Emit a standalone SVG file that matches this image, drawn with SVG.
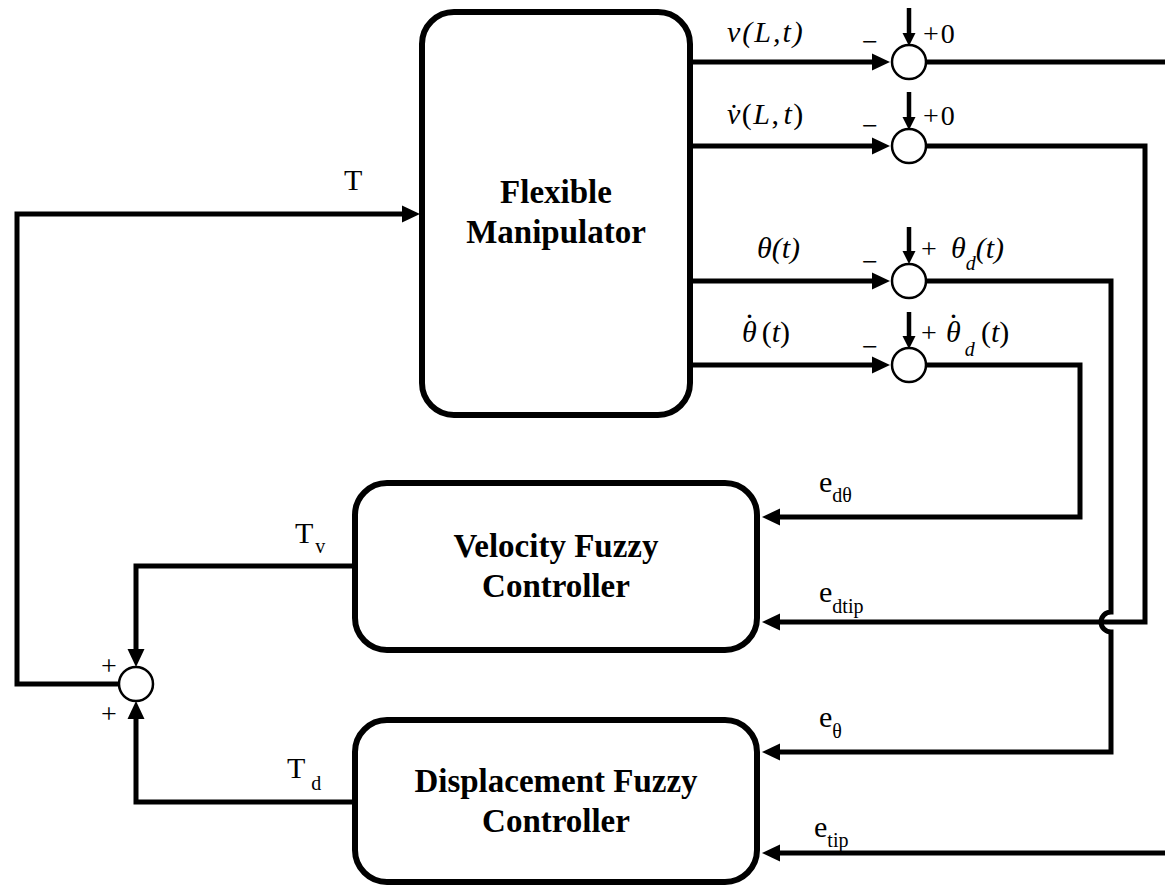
<svg xmlns="http://www.w3.org/2000/svg" width="1165" height="887" viewBox="0 0 1165 887">
<defs>
<marker id="arr" markerUnits="userSpaceOnUse" markerWidth="20" markerHeight="18" refX="8" refY="8.5" orient="auto" overflow="visible">
<path d="M0,0 L18,8.5 L0,17 z" fill="#000"/>
</marker>
<marker id="arrs" markerUnits="userSpaceOnUse" markerWidth="14" markerHeight="14" refX="4" refY="6.5" orient="auto" overflow="visible">
<path d="M0,0 L13,6.5 L0,13 z" fill="#000"/>
</marker>
</defs>
<style>
.box{fill:#fff;stroke:#000;stroke-width:6}
.sum{fill:#fff;stroke:#000;stroke-width:2.5}
.ln{fill:none;stroke:#000;stroke-width:5}
.lnd{fill:none;stroke:#000;stroke-width:4.5}
text{font-family:'Liberation Serif','Times New Roman',Tinos,'Nimbus Roman','DejaVu Serif',serif;fill:#000}
.bt{font-weight:bold;font-size:33px;text-anchor:middle}
.t{font-size:30px}
.i{font-size:30px;font-style:italic}
.s{font-size:20px}
.pm{font-size:28px}
</style>
<rect width="1165" height="887" fill="#fff"/>
<g id="connectors">
<path class="ln" d="M119,684 H17 V214 H410" marker-end="url(#arr)"/>
<path class="ln" d="M355,566 H136 V657" marker-end="url(#arr)"/>
<path class="ln" d="M355,802 H136 V711" marker-end="url(#arr)"/>
<path class="ln" d="M690,62 H880" marker-end="url(#arr)"/>
<path class="ln" d="M690,146 H880" marker-end="url(#arr)"/>
<path class="ln" d="M690,281 H880" marker-end="url(#arr)"/>
<path class="ln" d="M690,365 H880" marker-end="url(#arr)"/>
<path class="lnd" d="M909,8 V37" marker-end="url(#arrs)"/>
<path class="lnd" d="M909,92 V121" marker-end="url(#arrs)"/>
<path class="lnd" d="M909,227 V255" marker-end="url(#arrs)"/>
<path class="lnd" d="M909,312 V340" marker-end="url(#arrs)"/>
<path class="ln" d="M926,62 H1165"/>
<path class="ln" d="M926,146 H1145 V622 H772" marker-end="url(#arr)"/>
<path class="ln" d="M926,281 H1111 V612 A10,10 0 0 0 1111,632 V752 H772" marker-end="url(#arr)"/>
<path class="ln" d="M926,365 H1080 V517 H772" marker-end="url(#arr)"/>
<path class="ln" d="M1165,853 H772" marker-end="url(#arr)"/>
</g>
<g id="flexible-manipulator">
<rect class="box" x="422" y="12" width="268" height="403" rx="32"/>
<text class="bt" x="556" y="203">Flexible</text>
<text class="bt" x="556" y="243">Manipulator</text>
</g>
<g id="velocity-fuzzy-controller">
<rect class="box" x="355" y="483" width="402" height="167" rx="32"/>
<text class="bt" x="556" y="557">Velocity Fuzzy</text>
<text class="bt" x="556" y="597">Controller</text>
</g>
<g id="displacement-fuzzy-controller">
<rect class="box" x="355" y="720" width="402" height="162" rx="32"/>
<text class="bt" x="556" y="792">Displacement Fuzzy</text>
<text class="bt" x="556" y="832">Controller</text>
</g>
<g id="sum-v">
<circle class="sum" cx="909" cy="62" r="17"/>
<text class="pm" x="862" y="51">−</text>
<text class="pm" x="923" y="43" letter-spacing="2">+0</text>
</g>
<g id="sum-vdot">
<circle class="sum" cx="909" cy="146" r="17"/>
<text class="pm" x="862" y="135">−</text>
<text class="pm" x="923" y="125" letter-spacing="2">+0</text>
</g>
<g id="sum-theta">
<circle class="sum" cx="909" cy="281" r="17"/>
<text class="pm" x="862" y="271">−</text>
<text class="pm" x="921" y="258">+</text>
<text class="i" x="951" y="258">θ<tspan class="s" dy="12">d</tspan><tspan dy="-12">(t)</tspan></text>
</g>
<g id="sum-thetadot">
<circle class="sum" cx="909" cy="365" r="17"/>
<text class="pm" x="862" y="356">−</text>
<text class="pm" x="921" y="342">+</text>
<text class="i" x="946" y="342">θ<tspan font-style="normal" dx="-11" dy="-24">.</tspan><tspan class="s" dx="7.5" dy="38">d</tspan></text>
<text class="t" x="981" y="342"><tspan>(</tspan><tspan font-style="italic">t</tspan><tspan>)</tspan></text>
</g>
<g id="sum-torque">
<circle class="sum" cx="136" cy="684" r="17"/>
<text class="pm" x="101" y="675">+</text>
<text class="pm" x="101" y="723">+</text>
</g>
<g id="labels">
<text class="t" font-size="32" x="344" y="190">T</text>
<text class="i" x="727" y="42" letter-spacing="2">v(L,t)</text>
<text class="t" x="727" y="124" letter-spacing="1.5"><tspan font-style="italic">v̇</tspan>(<tspan font-style="italic">L</tspan>,<tspan font-style="italic" dx="3">t</tspan>)</text>
<text class="i" x="757" y="258">θ(t)</text>
<text class="t" x="742" y="342"><tspan font-style="italic">θ</tspan><tspan dx="-11" dy="-24">.</tspan><tspan dx="8.5" dy="24">(</tspan><tspan font-style="italic">t</tspan>)</text>
<text class="t" x="295" y="543">T<tspan class="s" dx="2" dy="10">v</tspan></text>
<text class="t" x="287" y="778">T<tspan class="s" dx="6" dy="12">d</tspan></text>
<text class="t" font-size="32" x="819" y="492">e<tspan class="s" dy="10">dθ</tspan></text>
<text class="t" font-size="32" x="819" y="602">e<tspan class="s" dy="11">dtip</tspan></text>
<text class="t" font-size="32" x="819" y="727">e<tspan class="s" dy="11">θ</tspan></text>
<text class="t" font-size="32" x="814" y="837">e<tspan class="s" dy="10">tip</tspan></text>
</g>
</svg>
